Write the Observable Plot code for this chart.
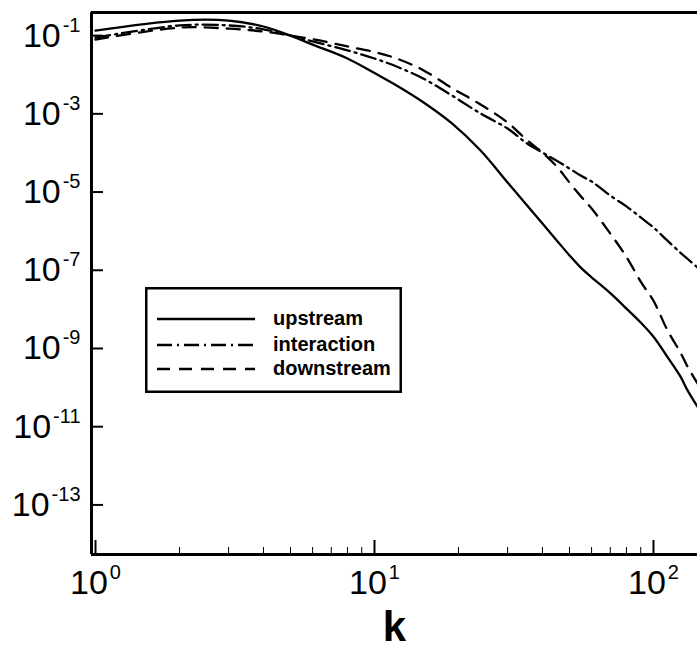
<!DOCTYPE html>
<html>
<head>
<meta charset="utf-8">
<script src="https://cdn.jsdelivr.net/npm/d3@7"></script>
<script src="https://cdn.jsdelivr.net/npm/@observablehq/plot@0.6"></script>
<style>
html, body { margin: 0; padding: 0; background: #fff; }
#chart { position: relative; width: 697px; height: 648px; overflow: hidden; font-family: "Liberation Sans", Arial, sans-serif; }
#legend { position: absolute; left: 145px; top: 287px; }
</style>
</head>
<body>
<div id="chart"></div>
<script>
// Wavenumber grid shared by the three spectra
const kValues = [1, 2, 3, 4, 5, 6, 8, 10, 12, 15, 19, 24, 30, 35, 40, 45, 50, 55, 60, 70, 80, 90, 100, 112, 125, 132, 144];
const upstream = [1.35e-1, 2.43e-1, 2.43e-1, 1.71e-1, 1.0e-1, 5.9e-2, 2.6e-2, 1.1e-2, 5.3e-3, 1.95e-3, 5.6e-4, 1.15e-4, 1.75e-5, 4.8e-6, 1.56e-6, 5.8e-7, 2.4e-7, 1.15e-7, 6.6e-8, 2.6e-8, 1.05e-8, 4.6e-9, 2.0e-9, 6.2e-10, 1.9e-10, 8.9e-11, 3.2e-11];
const interaction = [8.9e-2, 1.82e-1, 1.82e-1, 1.45e-1, 1.0e-1, 7.1e-2, 4.2e-2, 2.6e-2, 1.62e-2, 7.9e-3, 2.9e-3, 1.02e-3, 4.2e-4, 1.8e-4, 1.02e-4, 6.3e-5, 4.0e-5, 2.6e-5, 1.86e-5, 8.1e-6, 4.3e-6, 2.24e-6, 1.24e-6, 5.8e-7, 2.8e-7, 2.0e-7, 1.17e-7];
const downstream = [7.9e-2, 1.6e-1, 1.51e-1, 1.27e-1, 1.0e-1, 8.1e-2, 5.3e-2, 3.8e-2, 2.6e-2, 1.29e-2, 4.5e-3, 1.74e-3, 6.0e-4, 2.2e-4, 1.02e-4, 4.5e-5, 1.74e-5, 7.7e-6, 3.8e-6, 8.7e-7, 2.2e-7, 5.1e-8, 1.66e-8, 3.0e-9, 7.8e-10, 3.6e-10, 1.26e-10];

const seriesNames = ["upstream", "interaction", "downstream"];
const seriesDash = { upstream: null, interaction: "15,5,2,5", downstream: "13,9" };

const xMajorTicks = [1, 10, 100];
const xMinorTicks = [2, 3, 4, 5, 6, 7, 8, 9, 20, 30, 40, 50, 60, 70, 80, 90];
const yMajorTicks = [1e-1, 1e-3, 1e-5, 1e-7, 1e-9, 1e-11, 1e-13];
const xDomain = [0.9675, 143.8];
const yDomain = [5.4e-15, 0.39];
const xLabel = "k";

const seriesValues = { upstream, interaction, downstream };
const rows = [];
for (const name of seriesNames) {
  kValues.forEach((k, j) => rows.push({ series: name, k, E: seriesValues[name][j] }));
}

const expFormat = d => String(Math.round(Math.log10(d)));

const plot = Plot.plot({
  width: 697,
  height: 648,
  marginTop: 12,
  marginLeft: 91,
  marginRight: 0,
  marginBottom: 94,
  style: { fontFamily: '"Liberation Sans", Arial, sans-serif', background: "white", color: "black", overflow: "visible" },
  x: { type: "log", domain: xDomain },
  y: { type: "log", domain: yDomain },
  marks: [
    ...seriesNames.map(name => Plot.line(rows.filter(d => d.series === name), {
      x: "k", y: "E", stroke: "black", strokeWidth: 2.3,
      strokeDasharray: seriesDash[name], curve: "catmull-rom", clip: true
    })),
    Plot.axisX(xMinorTicks, { tickSize: -7, tickPadding: 10, strokeWidth: 1, tickFormat: () => "", label: null }),
    Plot.axisX(xMajorTicks, { tickSize: -14, tickPadding: 29, strokeWidth: 2, fontSize: 34, tickFormat: expFormat, label: null }),
    Plot.axisY(yMajorTicks, { tickSize: -12, tickPadding: 23, strokeWidth: 2, fontSize: 34, tickFormat: expFormat, label: null }),
    Plot.ruleX([xDomain[0]], { strokeWidth: 3 }),
    Plot.ruleY([yDomain[0], yDomain[1]], { strokeWidth: 3 }),
    Plot.text([xLabel], { text: d => d, frameAnchor: "bottom", dy: 86, fontSize: 42, fontWeight: "bold" })
  ]
});

// superscript exponents on tick labels
plot.querySelectorAll('g[aria-label="x-axis tick label"] text, g[aria-label="y-axis tick label"] text').forEach(t => {
  const exp = t.textContent;
  if (!exp) return;
  t.textContent = "10";
  const ts = document.createElementNS("http://www.w3.org/2000/svg", "tspan");
  ts.setAttribute("font-size", "20");
  ts.setAttribute("dy", "-15");
  ts.setAttribute("dx", "2");
  ts.textContent = exp;
  t.appendChild(ts);
});

const chart = document.getElementById("chart");
chart.appendChild(plot);

// legend
const NS = "http://www.w3.org/2000/svg";
const legW = 257, legH = 106;
const legend = document.createElement("div");
legend.id = "legend";
const lsvg = document.createElementNS(NS, "svg");
lsvg.setAttribute("width", legW);
lsvg.setAttribute("height", legH);
const box = document.createElementNS(NS, "rect");
box.setAttribute("x", 1.25); box.setAttribute("y", 1.25);
box.setAttribute("width", legW - 2.5); box.setAttribute("height", legH - 2.5);
box.setAttribute("fill", "white"); box.setAttribute("stroke", "black"); box.setAttribute("stroke-width", 2.5);
lsvg.appendChild(box);
const rowY = [32, 58, 82];
seriesNames.forEach((name, i) => {
  const ln = document.createElementNS(NS, "line");
  ln.setAttribute("x1", 12); ln.setAttribute("x2", 110);
  ln.setAttribute("y1", rowY[i]); ln.setAttribute("y2", rowY[i]);
  ln.setAttribute("stroke", "black"); ln.setAttribute("stroke-width", 2.3);
  if (seriesDash[name]) ln.setAttribute("stroke-dasharray", seriesDash[name]);
  lsvg.appendChild(ln);
  const tx = document.createElementNS(NS, "text");
  tx.setAttribute("x", 128); tx.setAttribute("y", rowY[i] + 6);
  tx.setAttribute("font-family", '"Liberation Sans", Arial, sans-serif');
  tx.setAttribute("font-size", 20); tx.setAttribute("font-weight", "bold");
  tx.textContent = name;
  lsvg.appendChild(tx);
});
legend.appendChild(lsvg);
chart.appendChild(legend);
</script>
</body>
</html>
